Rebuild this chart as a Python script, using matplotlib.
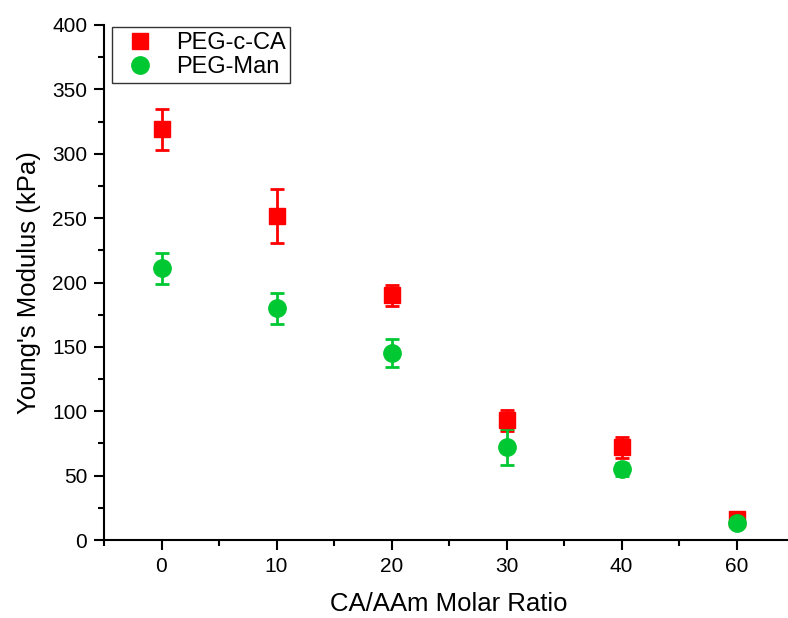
import matplotlib.pyplot as plt
from matplotlib.ticker import MultipleLocator

plt.rcParams['font.family'] = ['Liberation Sans', 'DejaVu Sans']

ratios = ['0', '10', '20', '30', '40', '60']
peg_cca = [319, 252, 190, 93, 72, 16]
peg_cca_err = [16, 21, 8, 8, 8, 3]
peg_man = [211, 180, 145, 72, 55, 13]
peg_man_err = [12, 12, 11, 14, 5, 1]

x = list(range(len(ratios)))

fig = plt.figure(figsize=(7.88, 6.18), dpi=100)
ax = fig.add_axes([104 / 788, (618 - 540) / 618, 690 / 788, 515 / 618])

eb1 = ax.errorbar(x, peg_cca, yerr=peg_cca_err, fmt='s', color='#ff0000', ms=11,
                  elinewidth=2, capsize=5, capthick=2, zorder=3)
eb2 = ax.errorbar(x, peg_man, yerr=peg_man_err, fmt='o', color='#00c832', ms=12.5,
                  elinewidth=2, capsize=5, capthick=2, zorder=3)

ax.set_xlim(-0.5, 5.5)
ax.set_ylim(0, 400)
ax.set_xticks(x)
ax.set_xticklabels(ratios)
ax.xaxis.set_minor_locator(MultipleLocator(0.5))
ax.yaxis.set_major_locator(MultipleLocator(50))
ax.yaxis.set_minor_locator(MultipleLocator(25))

for s in ['top', 'right']:
    ax.spines[s].set_visible(False)
for s in ['left', 'bottom']:
    ax.spines[s].set_linewidth(1.5)
ax.tick_params(which='major', direction='out', length=7, width=1.5, labelsize=15, pad=5)
ax.tick_params(which='minor', direction='out', length=4, width=1.5)

ax.set_xlabel('CA/AAm Molar Ratio', fontsize=18.5, labelpad=12)
ax.set_ylabel("Young's Modulus (kPa)", fontsize=18.5, labelpad=8)

leg = ax.legend([eb1[0], eb2[0]], ['PEG-c-CA', 'PEG-Man'], loc='upper left',
                bbox_to_anchor=(0.008, 1.0), fontsize=17, frameon=True,
                fancybox=False, edgecolor='black', handlelength=2.0,
                handletextpad=0.5, borderpad=0.2, labelspacing=0.1,
                borderaxespad=0.1)
leg.get_frame().set_linewidth(1)

fig.savefig('out.png', dpi=100)
